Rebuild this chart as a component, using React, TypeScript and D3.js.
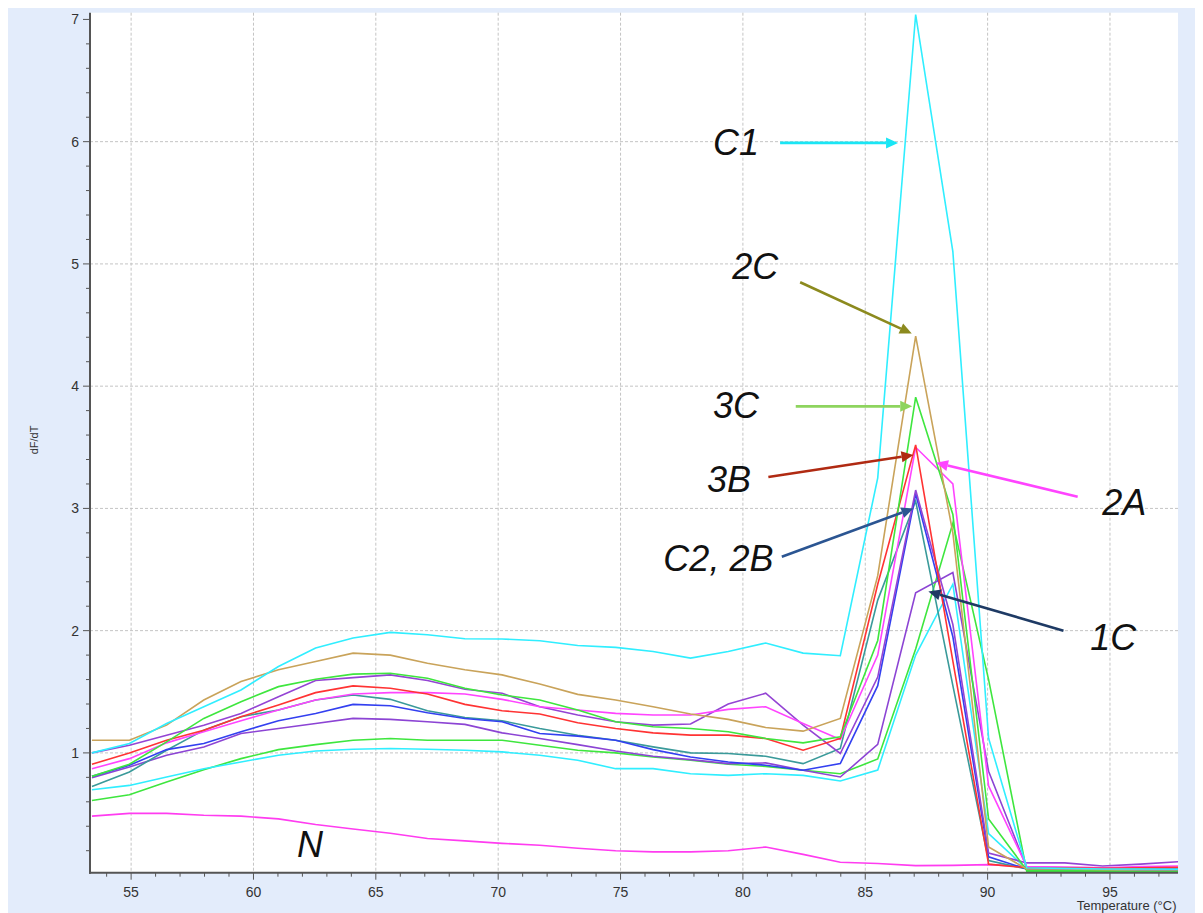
import React from "react";
import * as d3 from "d3";

// melt curve temperatures (°C)
const temps = [53.4, 54.93, 56.45, 57.97, 59.49, 61.02, 62.54, 64.07, 65.59, 67.11, 68.64, 70.16, 71.7, 73.25, 74.8, 76.33, 77.86, 79.4, 80.93, 82.46, 83.98, 85.51, 87.06, 88.58, 90.04, 91.6, 93.15, 94.7, 96.25, 97.8];

// dF/dT per sample
const sampleC1 = [1.0, 1.077, 1.24, 1.378, 1.515, 1.707, 1.858, 1.94, 1.986, 1.967, 1.934, 1.932, 1.918, 1.879, 1.863, 1.83, 1.775, 1.83, 1.899, 1.816, 1.795, 3.25, 7.04, 5.1, 1.12, 0.06, 0.055, 0.05, 0.05, 0.048];
const sample2C = [1.104, 1.104, 1.227, 1.433, 1.584, 1.68, 1.748, 1.816, 1.8, 1.734, 1.68, 1.638, 1.564, 1.479, 1.433, 1.378, 1.318, 1.274, 1.208, 1.178, 1.282, 2.45, 4.41, 2.8, 0.23, 0.05, 0.05, 0.045, 0.045, 0.045];
const sample3C = [0.808, 0.907, 1.09, 1.282, 1.419, 1.542, 1.603, 1.644, 1.652, 1.61, 1.529, 1.474, 1.433, 1.351, 1.255, 1.214, 1.2, 1.173, 1.118, 1.082, 1.132, 1.92, 3.91, 2.95, 0.46, 0.04, 0.04, 0.035, 0.03, 0.03];
const sample3B = [0.907, 1.0, 1.104, 1.186, 1.296, 1.392, 1.493, 1.548, 1.529, 1.482, 1.397, 1.345, 1.318, 1.247, 1.2, 1.164, 1.145, 1.145, 1.118, 1.022, 1.118, 2.38, 3.52, 1.75, 0.09, 0.06, 0.06, 0.055, 0.06, 0.065];
const sample2A = [0.871, 0.953, 1.082, 1.173, 1.263, 1.351, 1.433, 1.482, 1.493, 1.493, 1.482, 1.438, 1.378, 1.351, 1.323, 1.31, 1.31, 1.356, 1.378, 1.241, 1.11, 1.8, 3.5, 3.2, 0.73, 0.07, 0.065, 0.06, 0.07, 0.075];
const sampleTeal = [0.726, 0.844, 1.022, 1.186, 1.296, 1.351, 1.433, 1.474, 1.438, 1.345, 1.29, 1.263, 1.2, 1.145, 1.104, 1.049, 1.0, 0.995, 0.973, 0.912, 1.036, 2.25, 3.06, 1.55, 0.12, 0.05, 0.05, 0.05, 0.045, 0.045];
const sampleC2 = [0.808, 0.899, 1.027, 1.077, 1.173, 1.263, 1.323, 1.397, 1.386, 1.329, 1.282, 1.255, 1.159, 1.137, 1.104, 1.027, 0.967, 0.926, 0.899, 0.858, 0.912, 1.55, 3.12, 1.95, 0.15, 0.05, 0.05, 0.045, 0.045, 0.045];
const sample2B = [1.0, 1.063, 1.145, 1.227, 1.323, 1.46, 1.592, 1.616, 1.638, 1.592, 1.52, 1.488, 1.378, 1.31, 1.255, 1.227, 1.236, 1.4, 1.488, 1.227, 0.995, 1.62, 3.15, 2.05, 0.18, 0.1, 0.1, 0.075, 0.09, 0.11];
const sample1C = [0.797, 0.885, 0.981, 1.049, 1.159, 1.2, 1.241, 1.282, 1.274, 1.255, 1.233, 1.164, 1.118, 1.068, 1.016, 0.973, 0.945, 0.912, 0.918, 0.858, 0.803, 1.07, 2.31, 2.475, 0.85, 0.06, 0.055, 0.05, 0.05, 0.05];
const sampleGreenLow = [0.611, 0.658, 0.762, 0.863, 0.953, 1.027, 1.068, 1.104, 1.118, 1.104, 1.104, 1.104, 1.063, 1.022, 1.0, 0.967, 0.94, 0.907, 0.89, 0.858, 0.83, 0.95, 1.85, 2.88, 1.6, 0.03, 0.03, 0.03, 0.025, 0.025];
const sampleCyanLow = [0.699, 0.734, 0.803, 0.871, 0.926, 0.981, 1.016, 1.03, 1.036, 1.03, 1.022, 1.008, 0.981, 0.94, 0.871, 0.871, 0.83, 0.816, 0.83, 0.816, 0.77, 0.86, 1.8, 2.38, 0.34, 0.05, 0.05, 0.05, 0.048, 0.048];
const sampleN = [0.483, 0.505, 0.505, 0.49, 0.483, 0.46, 0.414, 0.378, 0.343, 0.3, 0.28, 0.26, 0.245, 0.22, 0.2, 0.19, 0.19, 0.2, 0.23, 0.17, 0.105, 0.095, 0.078, 0.08, 0.086, 0.07, 0.065, 0.06, 0.06, 0.06];

const xTicks = [55, 60, 65, 70, 75, 80, 85, 90, 95];
const yTicks = [1, 2, 3, 4, 5, 6, 7];

// callouts in data units: label pos, arrow start, arrow tip
const callouts = [
  { text: "C1", lx: 78.78, ly: 5.89, x1: 81.52, y1: 5.99, x2: 86.34, y2: 5.99, color: "#19e6f5" },
  { text: "2C", lx: 79.56, ly: 4.88, x1: 82.34, y1: 4.85, x2: 86.9, y2: 4.43, color: "#8c8a1e" },
  { text: "3C", lx: 78.78, ly: 3.74, x1: 82.16, y1: 3.835, x2: 86.92, y2: 3.835, color: "#8ed45e" },
  { text: "3B", lx: 78.53, ly: 3.134, x1: 81.04, y1: 3.257, x2: 86.97, y2: 3.437, color: "#b02a12" },
  { text: "2A", lx: 94.68, ly: 2.95, x1: 93.68, y1: 3.096, x2: 87.89, y2: 3.373, color: "#ff44ff" },
  { text: "C2, 2B", lx: 76.75, ly: 2.488, x1: 81.59, y1: 2.605, x2: 86.97, y2: 3.0, color: "#2b5592" },
  { text: "1C", lx: 94.19, ly: 1.842, x1: 93.1, y1: 2.0, x2: 87.58, y2: 2.321, color: "#1e3a64" },
];
const labelN = { text: "N", lx: 61.78, ly: 0.148 };

const series = [
  { name: "N", color: "#ff3cf0", values: sampleN },
  { name: "low green", color: "#3ee63e", values: sampleGreenLow },
  { name: "low cyan", color: "#30eeff", values: sampleCyanLow },
  { name: "1C", color: "#8c44d4", values: sample1C },
  { name: "teal", color: "#3a9a9a", values: sampleTeal },
  { name: "C2", color: "#3340f0", values: sampleC2 },
  { name: "2B", color: "#9444d4", values: sample2B },
  { name: "2A", color: "#ff44ff", values: sample2A },
  { name: "3B", color: "#ff3333", values: sample3B },
  { name: "3C", color: "#3ee63e", values: sample3C },
  { name: "2C", color: "#c9a35a", values: sample2C },
  { name: "C1", color: "#30eeff", values: sampleC1 },
];

const App = () => {
  const left = 90, right = 1178, top = 12.7, bottom = 872.7;
  const x = d3.scaleLinear().domain([53.32, 97.78]).range([left, right]);
  const y = d3.scaleLinear().domain([0.02, 7.055]).range([bottom, top]);

  const line = d3.line<number>()
    .x((_, i) => x(temps[i]))
    .y((d) => y(d));

  const xMinor = d3.range(54, 98, 1).filter((t) => t % 5 !== 0);
  const yMinor = d3.range(1, 35).map((k) => k * 0.2).filter((v) => Math.abs(v - Math.round(v)) > 0.01);

  const arrowHead = (c) => {
    const ax = x(c.x1), ay = y(c.y1), bx = x(c.x2), by = y(c.y2);
    const len = Math.hypot(bx - ax, by - ay);
    const ux = (bx - ax) / len, uy = (by - ay) / len;
    const hl = 12, hw = 5.5;
    const baseX = bx - ux * hl, baseY = by - uy * hl;
    const pts = [
      [bx, by],
      [baseX - uy * hw, baseY + ux * hw],
      [baseX + uy * hw, baseY - ux * hw],
    ];
    return { ax, ay, baseX, baseY, pts: pts.map((p) => p.join(",")).join(" ") };
  };

  const font = "'Liberation Sans', Arial, sans-serif";

  return (
    <svg width={1195} height={905} style={{ display: "block" }}>
      <g transform="translate(-8,-8)">
        <rect x={8} y={8} width={1195} height={905} fill="#e3ecfb" />
        <rect x={left} y={top} width={right - left} height={bottom - top} fill="#ffffff" />
        <defs>
          <clipPath id="plot">
            <rect x={left} y={top} width={right - left} height={bottom - top} />
          </clipPath>
        </defs>

        {/* grid */}
        {xTicks.map((t) => (
          <line key={"gx" + t} x1={x(t)} x2={x(t)} y1={top} y2={bottom}
            stroke="#c4c4c4" strokeWidth={1} strokeDasharray="3,2" />
        ))}
        {yTicks.filter((t) => t < 7).map((t) => (
          <line key={"gy" + t} x1={left} x2={right} y1={y(t)} y2={y(t)}
            stroke="#c4c4c4" strokeWidth={1} strokeDasharray="3,2" />
        ))}

        {/* curves */}
        <g clipPath="url(#plot)">
          {series.map((s) => (
            <path key={s.name} d={line(s.values) || ""} fill="none"
              stroke={s.color} strokeWidth={1.6} strokeLinejoin="miter" />
          ))}
        </g>

        {/* axes */}
        <line x1={left} x2={left} y1={top} y2={bottom + 1} stroke="#555" strokeWidth={2} />
        <line x1={left - 1} x2={right} y1={bottom} y2={bottom} stroke="#555" strokeWidth={2} />
        {yTicks.map((t) => (
          <g key={"yt" + t}>
            <line x1={left - 7} x2={left} y1={y(t)} y2={y(t)} stroke="#555" strokeWidth={1} />
            <text x={79} y={y(t)} dy="0.35em" textAnchor="end" fontSize={14}
              fontFamily={font} fill="#333">{t}</text>
          </g>
        ))}
        {yMinor.map((v) => (
          <line key={"ym" + v} x1={left - 4} x2={left} y1={y(v)} y2={y(v)} stroke="#555" strokeWidth={1} />
        ))}
        {xTicks.map((t) => (
          <g key={"xt" + t}>
            <line x1={x(t)} x2={x(t)} y1={bottom} y2={bottom + 7} stroke="#555" strokeWidth={1} />
            <text x={x(t)} y={896.5} textAnchor="middle" fontSize={14}
              fontFamily={font} fill="#333">{t}</text>
          </g>
        ))}
        {xMinor.map((t) => (
          <line key={"xm" + t} x1={x(t)} x2={x(t)} y1={bottom} y2={bottom + 4} stroke="#555" strokeWidth={1} />
        ))}

        <text transform="translate(38,440) rotate(-90)" textAnchor="middle" fontSize={11}
          fontFamily={font} fill="#333">dF/dT</text>
        <text x={1176.5} y={909.5} textAnchor="end" fontSize={13}
          fontFamily={font} fill="#333">Temperature (°C)</text>

        {/* callouts */}
        {callouts.map((c) => {
          const a = arrowHead(c);
          return (
            <g key={c.text}>
              <line x1={a.ax} y1={a.ay} x2={a.baseX} y2={a.baseY} stroke={c.color} strokeWidth={2.6} />
              <polygon points={a.pts} fill={c.color} />
              <text x={x(c.lx)} y={y(c.ly)} fontSize={36} fontStyle="italic"
                fontFamily={font} fill="#111">{c.text}</text>
            </g>
          );
        })}
        <text x={x(labelN.lx)} y={y(labelN.ly)} fontSize={36} fontStyle="italic"
          fontFamily={font} fill="#111">{labelN.text}</text>
      </g>
    </svg>
  );
};

export default App;
